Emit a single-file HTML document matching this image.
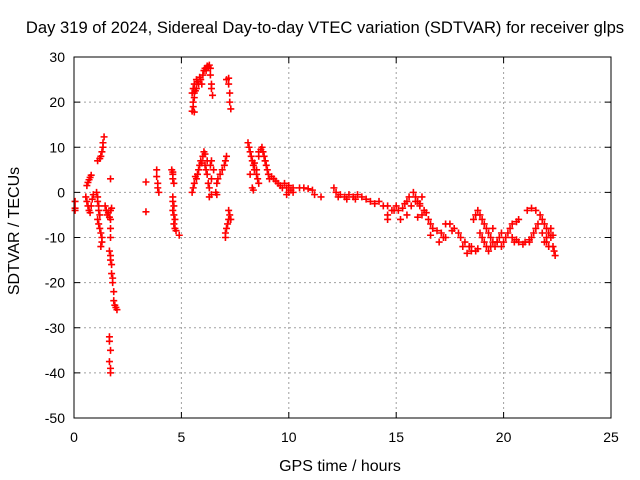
<!DOCTYPE html>
<html><head><meta charset="utf-8"><style>
html,body{margin:0;padding:0;background:#fff;}
svg{display:block;font-family:"Liberation Sans",sans-serif;}
</style></head><body>
<svg id="chart" width="640" height="480">
<rect x="0" y="0" width="640" height="480" fill="#fff"/>
<g id="grid"></g>
<g id="marks"></g>
<g id="axes"></g>
<text x="325" y="33" font-size="16.6" text-anchor="middle">Day 319 of 2024, Sidereal Day-to-day VTEC variation (SDTVAR) for receiver glps</text>
<text x="340" y="471" font-size="16" text-anchor="middle">GPS time / hours</text>
<text transform="translate(19,231) rotate(-90)" font-size="16" text-anchor="middle">SDTVAR / TECUs</text>
</svg>
<script>
const xTicks=[0,5,10,15,20,25];
const yTicks=[30,20,10,0,-10,-20,-30,-40,-50];
const hours=[0.05,0.05,0.05,0.6,0.65,0.7,0.75,0.8,0.55,0.6,0.65,0.7,0.75,0.8,0.85,0.9,1.1,1.2,1.25,1.3,1.35,1.35,1.4,1.05,1.1,1.1,1.15,1.15,1.2,1.1,1.15,1.2,1.25,1.3,1.3,1.25,1.45,1.5,1.55,1.6,1.65,1.7,1.7,1.75,1.7,1.7,1.7,1.65,1.7,1.7,1.75,1.75,1.8,1.8,1.85,1.85,1.9,1.95,2.0,1.65,1.65,1.7,1.65,1.7,1.7,3.35,3.35,3.85,3.85,3.9,3.9,3.95,4.55,4.6,4.6,4.6,4.65,4.6,4.6,4.65,4.6,4.65,4.7,4.65,4.7,4.75,4.9,5.5,5.55,5.55,5.6,5.6,5.55,5.6,5.7,5.8,5.9,5.95,6.0,6.05,6.1,6.2,6.3,6.35,6.35,6.4,6.4,6.45,5.5,5.7,5.6,7.1,7.2,7.2,7.25,7.25,7.3,5.5,5.55,5.6,5.7,5.75,5.8,5.85,5.9,6.0,6.05,6.1,6.2,6.15,6.2,6.25,6.3,6.4,6.35,6.4,6.5,6.4,6.3,6.6,6.65,6.7,6.8,6.9,7.0,7.05,7.1,6.65,7.2,7.25,7.2,7.15,7.1,7.05,7.05,7.3,8.1,8.15,8.2,8.25,8.3,8.35,8.4,8.5,8.55,8.6,8.3,8.35,8.5,8.6,8.7,8.75,8.8,8.85,8.9,8.95,9.0,9.05,9.1,9.2,8.2,9.3,9.5,9.6,9.7,9.8,9.9,10,10.1,10.2,9.9,10.2,10.0,10.5,10.7,10.9,11.1,11.2,11.5,12.1,12.2,12.4,12.6,12.8,13.0,13.2,13.4,13.6,13.8,14.0,14.2,14.4,12.3,12.7,13.1,14.6,14.6,14.6,14.8,15.0,15.1,15.3,15.5,15.6,15.8,15.9,16.0,15.7,16.1,16.2,16.3,16.5,16.6,16.7,16.4,15.2,15.5,16.0,16.9,17.1,17.3,16.6,17.0,17.2,16.2,17.5,17.7,17.9,18.0,18.2,18.4,18.5,18.7,18.8,18.6,18.7,18.8,18.9,19.0,19.1,19.2,19.3,19.4,19.5,19.6,19.7,19.8,19.9,19.5,19.4,19.2,19.3,19.0,18.9,19.9,20.0,20.1,20.2,20.3,20.4,20.6,20.7,20.4,20.5,20.7,20.9,21.0,21.2,21.3,21.4,21.5,21.6,21.1,21.3,21.5,21.7,21.8,21.9,22.0,22.1,22.2,22.3,22.35,22.4,21.8,22.0,22.1,21.9,22.2,22.3,18.1,18.3,17.3,17.6,5.65,5.75,5.85,6.15,6.25,5.65,5.95,6.1,8.4,8.6,8.9,9.4,14.9,15.4,15.9,16.1,18.5,19.1,19.7,20.6,21.2,22.0];
const sdtvar=[-2,-3.5,-4,1.5,2.2,2.8,3.3,3.8,-1,-2,-3,-4,-4.5,-3,-1.5,-0.5,7,7.5,8,9,10,11,12.3,0,-1,-2,-3,-4,-5,-6,-7,-8,-9,-10,-11,-12,-3,-4,-5,-4.5,-5.5,-4,-6,-3.5,3,-8,-10,-13,-14,-15,-16,-18,-19,-20,-22,-24,-25,-25.5,-26,-32,-33,-35,-37.5,-39,-40,2.3,-4.3,5,3.5,2,1,0,5,4.5,4,3,2,-1,-2,-3,-4,-5,-6,-7,-8,-8.5,-9.5,18,19,20,21,22,23,24,23,24,25,24,26,27,27.5,28,28.2,27.5,26,24,23,21.5,22,25,17.8,25,25.3,24,22,20,18.5,0,1,2,3,4,5,6,7,8,9,8.5,7,5,4,2,1,3,6,7,5,-0.5,-1,0,2,3,4,5,6,7,8,-0.5,-4,-5,-6,-7,-8,-9,-10,-6,11,10,9,8,7,6,5,4,3,2,1,0.5,5,8,9.5,10,9,8,7,6,5,4,3,3.5,4,3,2,1.5,1,2,1,1.5,0.5,0,-0.5,1,0,1,1,0.8,0.5,-0.5,-1,1,0,-0.5,-1,-0.5,-1,-0.5,-1,-1.5,-2,-2.5,-2,-3,-1,-1.5,-1.5,-3,-5,-6,-4,-3,-4,-3.5,-2,-1,0,-1,-2,-3,-3,-5,-4,-6,-7,-8,-4.5,-6,-5,-5.5,-8.5,-9,-10,-9.5,-11,-10,-1,-7,-8,-9,-10,-11,-12,-13,-13,-12.5,-6,-5,-4,-5,-6,-7,-8,-9,-10,-11,-12,-11,-10,-9,-8,-12,-12,-13,-10,-9,-12,-11,-10,-9,-8,-7,-6.5,-6,-10,-11,-11,-11.5,-11,-10.5,-10,-9,-8,-7,-4,-3.5,-4,-5,-6,-7,-8,-9,-10,-12,-13,-14,-9,-10,-12,-11,-8,-9.5,-12,-13.5,-7,-8.5,22.5,24.5,25.5,27,27.8,3.5,6.5,6,6.5,9,7,2.5,-4,-2.5,-2,-2.5,-12,-11,-11,-10.5,-11,-11];
const NS="http://www.w3.org/2000/svg";
const L=74,R=611,T=57,B=418;
function xs(h){return L+(h-0)/25*(R-L);}
function ys(v){return B-(v+50)/80*(B-T);}
const grid=document.getElementById('grid'),axes=document.getElementById('axes'),marks=document.getElementById('marks');
function mk(tag,attrs,parent){const e=document.createElementNS(NS,tag);for(const k in attrs)e.setAttribute(k,attrs[k]);parent.appendChild(e);return e;}
xTicks.forEach(t=>{const x=xs(t);
 if(t>0&&t<25){const g=mk('line',{x1:x,x2:x,y1:T,y2:B,stroke:'#a0a0a0','stroke-dasharray':'2,3'},grid);
 
 }
 mk('line',{x1:x,x2:x,y1:B,y2:B-6,stroke:'#000'},axes);mk('line',{x1:x,x2:x,y1:T,y2:T+6,stroke:'#000'},axes);
 const tx=mk('text',{x:x,y:B+24,'font-size':14,'text-anchor':'middle'},axes);tx.textContent=t;
 
 });
yTicks.forEach(t=>{const y=ys(t);
 if(t>-50&&t<30){const g=mk('line',{x1:L,x2:R,y1:y,y2:y,stroke:'#a0a0a0','stroke-dasharray':'2,3'},grid);
 
 }
 mk('line',{x1:L,x2:L+6,y1:y,y2:y,stroke:'#000'},axes);mk('line',{x1:R,x2:R-6,y1:y,y2:y,stroke:'#000'},axes);
 const tx=mk('text',{x:L-9,y:y+5,'font-size':14,'text-anchor':'end'},axes);tx.textContent=t;
 
 });
const fr=mk('rect',{x:L,y:T,width:R-L,height:B-T,fill:'none',stroke:'#000'},axes);


hours.forEach((h,i)=>{const x=xs(h),y=ys(sdtvar[i]);
 const p=mk('path',{d:`M${x-3.5},${y}H${x+3.5}M${x},${y-3.5}V${y+3.5}`,stroke:'#f00','stroke-width':1.6,fill:'none'},marks);
 
 });
</script>
</body></html>
